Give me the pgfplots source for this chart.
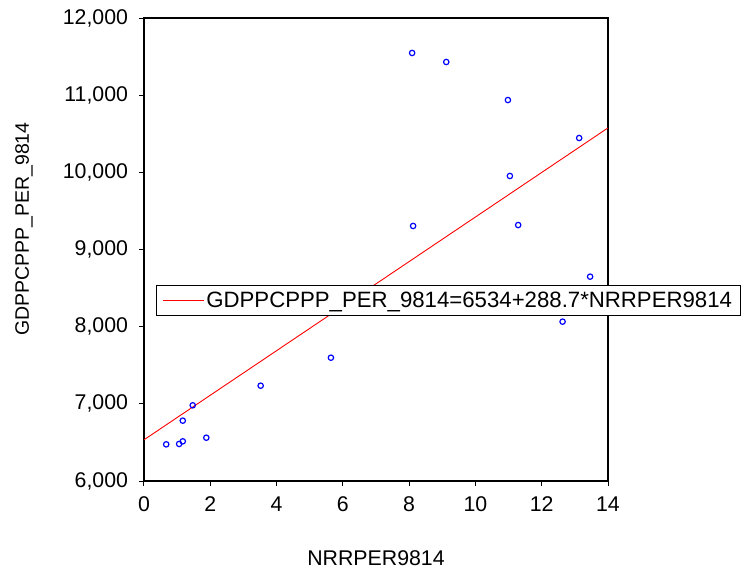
\documentclass[border=0pt]{standalone}
\usepackage{fontspec}
\setmainfont{Liberation Sans}
\usepackage{pgfplots}
\pgfplotsset{compat=1.18}

\begin{document}
\begin{tikzpicture}
\begin{axis}[
  width=464pt, height=463pt,
  scale only axis,
  at={(0,0)}, anchor=south west,
  xmin=0, xmax=14,
  ymin=6000, ymax=12000,
  xtick={0,2,...,14},
  ytick={6000,7000,...,12000},
  tick align=outside,
  xtick pos=left, ytick pos=left,
  major tick length=4.5pt,
  tick style={black, line width=1pt},
  axis line style={line width=1.5pt},
  /pgf/number format/assume math mode=true,
  /pgf/number format/1000 sep={,},
  scaled y ticks=false,
  ticklabel style={font=\fontsize{21.3}{24}\selectfont},
  xticklabel style={yshift=-8pt},
  yticklabel style={xshift=-8pt},
  xlabel={NRRPER9814},
  ylabel={GDPPCPPP\_PER\_9814},
  xlabel style={font=\fontsize{21.3}{24}\selectfont, at={(axis description cs:0.5,-0.1663)}, anchor=center},
  ylabel style={font=\fontsize{19.5}{22}\selectfont, at={(axis description cs:-0.2586,0.544)}, anchor=center},
  legend style={at={(axis description cs:0.0259,0.4233)}, anchor=north west,
    draw=black, line width=0.9pt, font=\fontsize{22.2}{25}\selectfont,
    inner xsep=6pt, inner ysep=4.5pt},
  legend cell align=left,
]
\addplot[only marks, mark=o, mark size=2.7pt, mark options={draw=blue, line width=1.2pt}, forget plot]
coordinates {
(8.09,11547) (9.12,11430) (10.98,10937) (13.13,10445) (11.04,9953)
(8.12,9305) (11.29,9317) (13.46,8648) (12.63,8065) (5.64,7598)
(3.52,7235) (1.47,6981) (1.17,6782) (1.88,6561) (0.67,6475)
(1.06,6480) (1.17,6514)
};
\addplot[red, line width=0.9pt,
  legend image code/.code={\draw[red, line width=0.9pt] (0pt,0pt) -- (41pt,0pt);}]
  coordinates {(0,6534) (14,10575.8)};
\addlegendentry{GDPPCPPP\_PER\_9814=6534+288.7*NRRPER9814}
\end{axis}
\pgfresetboundingbox
\path[use as bounding box] (-144pt,-90pt) rectangle (598pt,481pt);
\end{tikzpicture}
\end{document}
